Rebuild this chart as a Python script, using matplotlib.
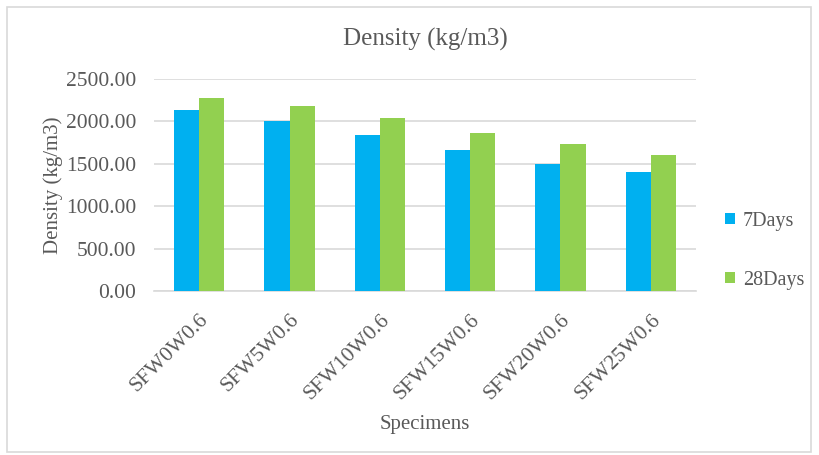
import matplotlib.pyplot as plt
import numpy as np
from matplotlib.patches import Rectangle

specimens = ['SFW0W0.6', 'SFW5W0.6', 'SFW10W0.6', 'SFW15W0.6', 'SFW20W0.6', 'SFW25W0.6']
days7 = [2138, 2004, 1835, 1665, 1496, 1398]
days28 = [2280, 2185, 2039, 1858, 1736, 1602]
yticks = [0, 500, 1000, 1500, 2000, 2500]

plt.rcParams['font.family'] = ['Liberation Serif', 'DejaVu Serif']
txt = '#595959'

W, H = 819, 455
fig = plt.figure(figsize=(W / 100, H / 100), dpi=100)
ax = fig.add_axes([154 / W, 1 - 291 / H, (696 - 154) / W, (291 - 79) / H])

x = np.arange(len(specimens))
bw = 0.28
ax.bar(x - bw / 2, days7, bw, color='#00B0F0', label='7Days', zorder=3)
ax.bar(x + bw / 2, days28, bw, color='#92D050', label='28Days', zorder=3)

ax.set_xlim(-0.5, len(specimens) - 0.5)
ax.set_ylim(0, 2500)
ax.set_yticks(yticks)
ax.set_yticklabels([f'{v:.2f}' for v in yticks], fontsize=15.5, color=txt)
ax.set_xticks(x)
ax.set_xticklabels(specimens, rotation=45, ha='right', rotation_mode='anchor',
                   fontsize=15.5, color=txt)
ax.tick_params(axis='y', length=0, pad=13)
ax.tick_params(axis='x', length=0, pad=14)
ax.grid(axis='y', color='#D9D9D9', linewidth=1.2, zorder=0)
for s in ['top', 'right', 'left']:
    ax.spines[s].set_visible(False)
ax.spines['bottom'].set_color('#D9D9D9')
ax.spines['bottom'].set_linewidth(1.2)

ax.set_title('Density (kg/m3)', fontsize=18, color=txt, pad=24)
ax.set_xlabel('Specimens', fontsize=15, color=txt, labelpad=8)
ax.set_ylabel('Density (kg/m3)', fontsize=15, color=txt, labelpad=2)

ax.legend(loc='center left', bbox_to_anchor=(1.02, 0.19), frameon=False,
          fontsize=14.5, labelcolor=txt, handlelength=0.5, handleheight=0.5,
          handletextpad=0.4, labelspacing=2.0)

fig.patches.append(Rectangle((7 / W, 3 / H), 804 / W, 445 / H, transform=fig.transFigure,
                             fill=False, edgecolor='#D9D9D9', linewidth=1.2))

fig.savefig('out.png', dpi=100)
